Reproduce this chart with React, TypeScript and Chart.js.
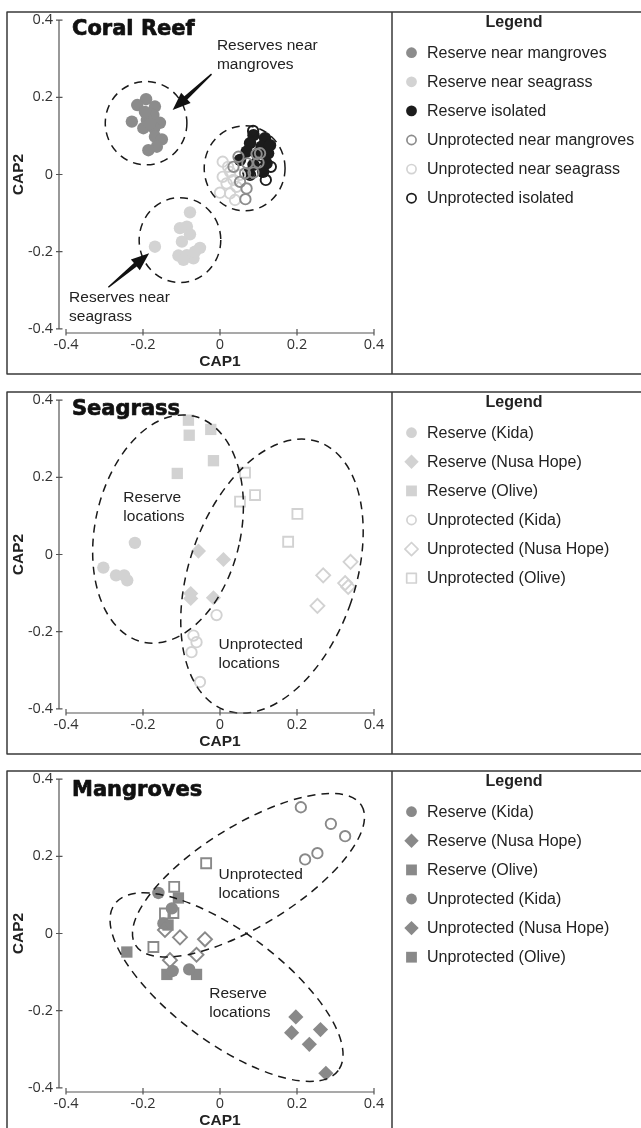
import React, { useEffect, useRef } from "react";
import { Chart, registerables } from "chart.js";

Chart.register(...registerables);

// ---------- axes ----------
const TICKS = [-0.4, -0.2, 0, 0.2, 0.4];
const TICK_LABELS = ["-0.4", "-0.2", "0", "0.2", "0.4"];
const X_MIN = -0.4182;
const X_MAX = 0.42;
const Y_MIN = -0.4106;
const Y_MAX = 0.4106;

// ---------- Coral Reef data (CAP1, CAP2) ----------
const coralResMangroves = [[-0.192, 0.195], [-0.215, 0.18], [-0.169, 0.176], [-0.173, 0.154], [-0.229, 0.137], [-0.19, 0.141], [-0.156, 0.134], [-0.199, 0.12], [-0.171, 0.12], [-0.169, 0.098], [-0.151, 0.091], [-0.164, 0.072], [-0.186, 0.063], [-0.195, 0.162], [-0.182, 0.131]];
const coralResSeagrass = [[-0.078, -0.098], [-0.104, -0.139], [-0.086, -0.135], [-0.078, -0.155], [-0.099, -0.174], [-0.169, -0.187], [-0.052, -0.19], [-0.108, -0.21], [-0.086, -0.209], [-0.069, -0.217], [-0.095, -0.221], [-0.065, -0.2]];
const coralResIsolated = [[0.087, 0.102], [0.117, 0.094], [0.078, 0.081], [0.108, 0.072], [0.069, 0.059], [0.099, 0.055], [0.125, 0.055], [0.121, 0.029], [0.087, 0.025], [0.112, 0.007], [0.13, 0.076], [0.052, 0.038], [0.074, 0.003]];
const coralUnpMangroves = [[0.048, 0.046], [0.095, 0.053], [0.071, 0.029], [0.1, 0.031], [0.065, 0.003], [0.087, 0.005], [0.069, -0.036], [0.066, -0.064], [0.035, 0.02], [0.052, -0.019], [0.104, 0.055]];
const coralUnpSeagrass = [[0.007, 0.033], [0.026, 0.007], [0.007, -0.006], [0.035, -0.014], [0.017, -0.023], [0.043, -0.032], [0.0, -0.047], [0.026, -0.049], [0.039, -0.066], [0.052, -0.001], [0.021, 0.02]];
const coralUnpIsolated = [[0.086, 0.113], [0.132, 0.02], [0.119, -0.014], [0.099, 0.038], [0.109, 0.048], [0.078, -0.001]];

// ---------- Seagrass data ----------
const seaResKida = [[-0.221, 0.03], [-0.303, -0.034], [-0.27, -0.054], [-0.249, -0.054], [-0.241, -0.067]];
const seaResNusa = [[-0.056, 0.009], [0.009, -0.013], [-0.076, -0.101], [-0.076, -0.114], [-0.017, -0.112]];
const seaResOlive = [[-0.082, 0.348], [-0.08, 0.309], [-0.024, 0.324], [-0.017, 0.243], [-0.111, 0.21]];
const seaUnpKida = [[-0.009, -0.157], [-0.069, -0.21], [-0.061, -0.227], [-0.074, -0.253], [-0.052, -0.33]];
const seaUnpNusa = [[0.268, -0.054], [0.339, -0.019], [0.325, -0.074], [0.333, -0.084], [0.253, -0.133]];
const seaUnpOlive = [[0.065, 0.212], [0.052, 0.137], [0.091, 0.154], [0.201, 0.105], [0.177, 0.033]];

// ---------- Mangroves data ----------
const manResKida = [[-0.16, 0.105], [-0.125, 0.065], [-0.147, 0.026], [-0.123, -0.097], [-0.08, -0.093]];
const manResNusa = [[0.197, -0.216], [0.186, -0.257], [0.261, -0.249], [0.232, -0.287], [0.275, -0.362]];
const manResOlive = [[-0.108, 0.092], [-0.135, 0.022], [-0.242, -0.048], [-0.138, -0.106], [-0.061, -0.106]];
const manUnpKida = [[0.21, 0.327], [0.288, 0.284], [0.325, 0.252], [0.253, 0.208], [0.221, 0.192]];
const manUnpNusa = [[-0.143, 0.009], [-0.104, -0.01], [-0.039, -0.015], [-0.13, -0.069], [-0.061, -0.055]];
const manUnpOlive = [[-0.036, 0.182], [-0.119, 0.121], [-0.143, 0.052], [-0.121, 0.053], [-0.173, -0.035]];

// ---------- overlays (data coords): ellipses [cx, cy, rx, ry, rotationDeg] ----------
const coralEllipses = [[-0.192, 0.133, 0.106, 0.108, 0], [-0.104, -0.17, 0.106, 0.11, 0], [0.064, 0.016, 0.105, 0.11, 0]];
const seaEllipses = [[-0.135, 0.066, 0.189, 0.3, 12.6], [0.135, -0.056, 0.216, 0.368, 19]];
const manEllipses = [[0.017, -0.139, 0.362, 0.143, 36.7], [0.074, 0.151, 0.345, 0.13, -31.7]];

const coralNotes = [
  { lines: ["Reserves near", "mangroves"], x: -0.008, y: 0.333 },
  { lines: ["Reserves near", "seagrass"], x: -0.392, y: -0.319 },
];
const seaNotes = [
  { lines: ["Reserve", "locations"], x: -0.251, y: 0.147 },
  { lines: ["Unprotected", "locations"], x: -0.004, y: -0.235 },
];
const manNotes = [
  { lines: ["Unprotected", "locations"], x: -0.004, y: 0.151 },
  { lines: ["Reserve", "locations"], x: -0.028, y: -0.156 },
];
// arrows [tailX, tailY, tipX, tipY]
const coralArrows = [[-0.022, 0.26, -0.123, 0.167], [-0.29, -0.292, -0.184, -0.204]];

// ---------- styles ----------
const C_MID = "#8c8c8c";
const C_LIGHT = "#d3d3d3";
const C_DARK = "#1c1c1c";
const S_LIGHT = "#d2d2d2";
const M_MID = "#898989";
const TEXT = "#222";
const AXIS = "#555";
const BORDER = "#3a3a3a";

type Shape = "circle" | "rectRot" | "rect";
interface Series { label: string; data: number[][]; shape: Shape; filled: boolean; color: string; legendFilled?: boolean; }
interface PanelSpec {
  title: string;
  titleBaseline: number;
  series: Series[];
  ellipses: number[][];
  notes: { lines: string[]; x: number; y: number }[];
  arrows: number[][];
}

const PANELS: PanelSpec[] = [
  {
    title: "Coral Reef",
    titleBaseline: 35,
    series: [
      { label: "Reserve near mangroves", data: coralResMangroves, shape: "circle", filled: true, color: C_MID },
      { label: "Reserve near seagrass", data: coralResSeagrass, shape: "circle", filled: true, color: C_LIGHT },
      { label: "Reserve isolated", data: coralResIsolated, shape: "circle", filled: true, color: C_DARK },
      { label: "Unprotected near mangroves", data: coralUnpMangroves, shape: "circle", filled: false, color: C_MID },
      { label: "Unprotected near seagrass", data: coralUnpSeagrass, shape: "circle", filled: false, color: C_LIGHT },
      { label: "Unprotected isolated", data: coralUnpIsolated, shape: "circle", filled: false, color: C_DARK },
    ],
    ellipses: coralEllipses,
    notes: coralNotes,
    arrows: coralArrows,
  },
  {
    title: "Seagrass",
    titleBaseline: 34.5,
    series: [
      { label: "Reserve (Kida)", data: seaResKida, shape: "circle", filled: true, color: S_LIGHT },
      { label: "Reserve (Nusa Hope)", data: seaResNusa, shape: "rectRot", filled: true, color: S_LIGHT },
      { label: "Reserve (Olive)", data: seaResOlive, shape: "rect", filled: true, color: S_LIGHT },
      { label: "Unprotected (Kida)", data: seaUnpKida, shape: "circle", filled: false, color: S_LIGHT },
      { label: "Unprotected (Nusa Hope)", data: seaUnpNusa, shape: "rectRot", filled: false, color: S_LIGHT },
      { label: "Unprotected (Olive)", data: seaUnpOlive, shape: "rect", filled: false, color: S_LIGHT },
    ],
    ellipses: seaEllipses,
    notes: seaNotes,
    arrows: [],
  },
  {
    title: "Mangroves",
    titleBaseline: 36.5,
    series: [
      { label: "Reserve (Kida)", data: manResKida, shape: "circle", filled: true, color: M_MID },
      { label: "Reserve (Nusa Hope)", data: manResNusa, shape: "rectRot", filled: true, color: M_MID },
      { label: "Reserve (Olive)", data: manResOlive, shape: "rect", filled: true, color: M_MID },
      { label: "Unprotected (Kida)", data: manUnpKida, shape: "circle", filled: false, color: M_MID, legendFilled: true },
      { label: "Unprotected (Nusa Hope)", data: manUnpNusa, shape: "rectRot", filled: false, color: M_MID, legendFilled: true },
      { label: "Unprotected (Olive)", data: manUnpOlive, shape: "rect", filled: false, color: M_MID, legendFilled: true },
    ],
    ellipses: manEllipses,
    notes: manNotes,
    arrows: [],
  },
];

const PANEL_TOPS = [0, 380, 759];
const CANVAS_H = 380;

function pointRadius(s: Series): number {
  if (s.shape === "circle") return s.filled ? 6.2 : 5.2;
  if (s.shape === "rectRot") return s.filled ? 7.6 : 7;
  return s.filled ? 8 : 7;
}

function drawMarker(ctx: CanvasRenderingContext2D, shape: Shape, filled: boolean, color: string, x: number, y: number) {
  ctx.beginPath();
  if (shape === "circle") {
    ctx.arc(x, y, filled ? 5.4 : 4.6, 0, Math.PI * 2);
  } else if (shape === "rectRot") {
    const r = filled ? 7.2 : 6.6;
    ctx.moveTo(x, y - r);
    ctx.lineTo(x + r, y);
    ctx.lineTo(x, y + r);
    ctx.lineTo(x - r, y);
    ctx.closePath();
  } else {
    const h = filled ? 5.4 : 4.8;
    ctx.rect(x - h, y - h, 2 * h, 2 * h);
  }
  if (filled) {
    ctx.fillStyle = color;
    ctx.fill();
  } else {
    ctx.strokeStyle = color;
    ctx.lineWidth = 1.7;
    ctx.stroke();
  }
}

function drawArrow(ctx: CanvasRenderingContext2D, x1: number, y1: number, x2: number, y2: number) {
  const ang = Math.atan2(y2 - y1, x2 - x1);
  const len = Math.hypot(x2 - x1, y2 - y1);
  const headLen = 18;
  const headW = 7;
  ctx.save();
  ctx.translate(x1, y1);
  ctx.rotate(ang);
  ctx.beginPath();
  ctx.moveTo(0, -0.7);
  ctx.lineTo(len - headLen, -2.2);
  ctx.lineTo(len - headLen, -headW);
  ctx.lineTo(len, 0);
  ctx.lineTo(len - headLen, headW);
  ctx.lineTo(len - headLen, 2.2);
  ctx.lineTo(0, 0.7);
  ctx.closePath();
  ctx.fillStyle = "#111";
  ctx.fill();
  ctx.restore();
}

function makePlugin(spec: PanelSpec) {
  return {
    id: "panelDecor",
    afterDatasetsDraw(chart: any) {
      const ctx: CanvasRenderingContext2D = chart.ctx;
      const xs = chart.scales.x;
      const ys = chart.scales.y;
      ctx.save();
      ctx.strokeStyle = "#1a1a1a";
      ctx.lineWidth = 1.5;
      ctx.setLineDash([8, 6]);
      for (const e of spec.ellipses) {
        const [cx, cy, rx, ry, rot] = e;
        const px = xs.getPixelForValue(cx);
        const py = ys.getPixelForValue(cy);
        const rpx = Math.abs(xs.getPixelForValue(cx + rx) - px);
        const rpy = Math.abs(ys.getPixelForValue(cy + ry) - py);
        ctx.beginPath();
        ctx.ellipse(px, py, rpx, rpy, (rot * Math.PI) / 180, 0, Math.PI * 2);
        ctx.stroke();
      }
      ctx.restore();
    },
    afterDraw(chart: any) {
      const ctx: CanvasRenderingContext2D = chart.ctx;
      const xs = chart.scales.x;
      const ys = chart.scales.y;
      const area = chart.chartArea;
      const X = (v: number) => xs.getPixelForValue(v);
      const Y = (v: number) => ys.getPixelForValue(v);
      ctx.save();

      // axes
      ctx.strokeStyle = AXIS;
      ctx.lineWidth = 1.2;
      ctx.setLineDash([]);
      const ax = area.left;
      ctx.beginPath();
      ctx.moveTo(ax, Y(0.4));
      ctx.lineTo(ax, Y(-0.4));
      for (const t of TICKS) {
        ctx.moveTo(ax - 3, Y(t));
        ctx.lineTo(ax + 3.5, Y(t));
      }
      const ay = area.bottom;
      ctx.moveTo(X(-0.4), ay);
      ctx.lineTo(X(0.4), ay);
      for (const t of TICKS) {
        ctx.moveTo(X(t), ay - 4);
        ctx.lineTo(X(t), ay + 2.5);
      }
      ctx.stroke();

      // axis titles
      ctx.fillStyle = TEXT;
      ctx.font = 'bold 15.5px "Liberation Sans", Arial, sans-serif';
      ctx.textAlign = "center";
      ctx.textBaseline = "middle";
      ctx.fillText("CAP1", X(0), 361.5);
      ctx.save();
      ctx.translate(18.5, Y(0));
      ctx.rotate(-Math.PI / 2);
      ctx.fillText("CAP2", 0, 0);
      ctx.restore();

      // panel title (heavy)
      ctx.textAlign = "left";
      ctx.textBaseline = "alphabetic";
      ctx.font = 'bold 21px "DejaVu Sans", sans-serif';
      ctx.fillStyle = "#111";
      ctx.strokeStyle = "#111";
      ctx.lineWidth = 0.7;
      ctx.lineJoin = "round";
      ctx.fillText(spec.title, 72, spec.titleBaseline);
      ctx.strokeText(spec.title, 72, spec.titleBaseline);

      // notes
      ctx.font = '15.5px "Liberation Sans", Arial, sans-serif';
      ctx.fillStyle = TEXT;
      ctx.textBaseline = "middle";
      for (const n of spec.notes) {
        n.lines.forEach((ln, i) => ctx.fillText(ln, X(n.x), Y(n.y) + i * 19));
      }

      // arrows
      for (const a of spec.arrows) {
        drawArrow(ctx, X(a[0]), Y(a[1]), X(a[2]), Y(a[3]));
      }

      // panel frame
      ctx.strokeStyle = BORDER;
      ctx.lineWidth = 1.5;
      ctx.beginPath();
      ctx.rect(7, 12, 660, 362);
      ctx.moveTo(392, 12);
      ctx.lineTo(392, 374);
      ctx.stroke();

      // legend
      ctx.fillStyle = TEXT;
      ctx.font = 'bold 16px "Liberation Sans", Arial, sans-serif';
      ctx.textAlign = "center";
      ctx.textBaseline = "middle";
      ctx.fillText("Legend", 514, 23);
      ctx.textAlign = "left";
      ctx.font = '16px "Liberation Sans", Arial, sans-serif';
      spec.series.forEach((s, i) => {
        const yy = 52.7 + i * 29.1;
        const filled = s.legendFilled !== undefined ? s.legendFilled : s.filled;
        drawMarker(ctx, s.shape, filled, s.color, 411.5, yy);
        ctx.fillStyle = TEXT;
        ctx.fillText(s.label, 427, yy + 0.5);
      });
      ctx.restore();
    },
  };
}

function Panel({ spec, top }: { spec: PanelSpec; top: number }) {
  const ref = useRef<HTMLCanvasElement>(null);
  useEffect(() => {
    if (!ref.current) return;
    const datasets = spec.series.map((s) => ({
      label: s.label,
      data: s.data.map(([x, y]) => ({ x, y })),
      pointStyle: s.shape,
      pointRadius: pointRadius(s),
      pointBackgroundColor: s.filled ? s.color : "rgba(0,0,0,0)",
      pointBorderColor: s.color,
      pointBorderWidth: s.filled ? 0 : 1.9,
      showLine: false,
      clip: false as any,
      order: s.filled ? 1 : 0,
    }));
    const axisCommon = (isX: boolean) => ({
      type: "linear" as const,
      min: isX ? X_MIN : Y_MIN,
      max: isX ? X_MAX : Y_MAX,
      grid: { display: false, drawTicks: false },
      border: { display: false },
      ticks: {
        padding: isX ? 3.5 : 6,
        color: "#333",
        font: { family: '"Open Sans", sans-serif', size: 14.5 },
        autoSkip: false,
        maxRotation: 0,
        callback: (_v: any, i: number) => TICK_LABELS[i],
      },
      afterBuildTicks: (scale: any) => {
        scale.ticks = TICKS.map((v) => ({ value: v }));
      },
      afterFit: (scale: any) => {
        if (isX) scale.height = 30;
        else scale.width = 57;
      },
    });
    const chart = new Chart(ref.current, {
      type: "scatter",
      data: { datasets },
      options: {
        responsive: false,
        animation: false,
        events: [],
        layout: { padding: { left: 2, top: 16, right: 259.3, bottom: 17 } },
        plugins: { legend: { display: false }, tooltip: { enabled: false } },
        scales: { x: axisCommon(true), y: axisCommon(false) } as any,
      },
      plugins: [makePlugin(spec)],
    });
    return () => chart.destroy();
  }, [spec]);
  return (
    <canvas
      ref={ref}
      width={641}
      height={CANVAS_H}
      style={{ position: "absolute", left: 0, top, width: 641, height: CANVAS_H, display: "block" }}
    />
  );
}

export default function App() {
  return (
    <div style={{ position: "absolute", left: 0, top: 0, width: 641, height: 1128, overflow: "hidden", background: "#fff" }}>
      {PANELS.map((p, i) => (
        <Panel key={p.title} spec={p} top={PANEL_TOPS[i]} />
      ))}
    </div>
  );
}
